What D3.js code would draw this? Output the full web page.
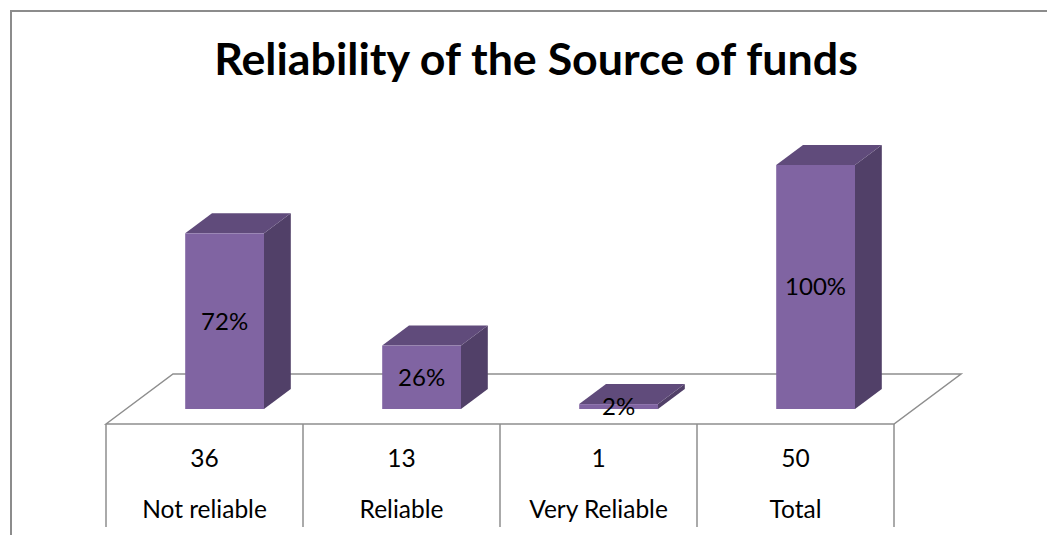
<!DOCTYPE html>
<html>
<head>
<meta charset="utf-8">
<script src="https://cdn.jsdelivr.net/npm/d3@7"></script>
<style>
  body { margin: 0; background: #fff; }
  svg { display: block; }
</style>
</head>
<body>
<div id="chart"></div>
<script>
// chart data
const categories = ["Not reliable", "Reliable", "Very Reliable", "Total"];
const counts = [36, 13, 1, 50];
const percents = [72, 26, 2, 100];
const title = "Reliability of the Source of funds";

const W = 1047, H = 535;
const font = "Lato, 'Open Sans', sans-serif";

// floor / table geometry
const floorX0 = 106, floorX1 = 894, floorFrontY = 424;
const depthX = 67, depthY = -50;
const barFront = 0.3, barBack = 0.7;   // where the bar sits inside the floor depth
const tableBottom = 527;

var svg = d3.select("#chart").append("svg")
    .attr("width", W)
    .attr("height", H);

// outer border
svg.append("path")
    .attr("d", "M11," + H + " L11,11 L" + W + ",11")
    .attr("fill", "none")
    .attr("stroke", "#8c8c8c")
    .attr("stroke-width", 2);

var title_el = svg.append("text")
    .attr("x", 536)
    .attr("y", 75)
    .attr("text-anchor", "middle")
    .attr("font-family", font)
    .attr("font-weight", "bold")
    .attr("font-size", "42px")
    .attr("fill", "#000")
    .text(title);
// fit title width to the reference
var tw = title_el.node().getComputedTextLength();
title_el.attr("font-size", (42 * 644 / tw) + "px");

var xScale = d3.scaleBand()
    .domain(categories)
    .range([floorX0, floorX1])
    .paddingInner(0.6)
    .paddingOuter(0.3);

var colStep = xScale.step();
var colScale = d3.scaleBand().domain(categories).range([floorX0, floorX1]);

var baseY = floorFrontY + depthY * barFront;
var yScale = d3.scaleLinear().domain([0, 100]).range([baseY, baseY - 244]);

var grid = "#8e8e8e";

// floor
svg.append("path")
    .attr("d", "M" + floorX0 + "," + floorFrontY +
        " L" + (floorX0 + depthX) + "," + (floorFrontY + depthY) +
        " L" + (floorX1 + depthX) + "," + (floorFrontY + depthY) +
        " L" + floorX1 + "," + floorFrontY + " Z")
    .attr("fill", "none")
    .attr("stroke", grid)
    .attr("stroke-width", 1.5);

// data table lines
var tableLines = colScale.domain().map(c => colScale(c)).concat([floorX1]);
svg.selectAll(".tline")
    .data(tableLines)
    .enter().append("line")
    .attr("class", "tline")
    .attr("x1", d => d).attr("x2", d => d)
    .attr("y1", floorFrontY).attr("y2", tableBottom)
    .attr("stroke", grid)
    .attr("stroke-width", 1.5);

// bars
var offX = depthX * barFront, dX = depthX * (barBack - barFront), dY = depthY * (barBack - barFront);
var bw = xScale.bandwidth();

var bars = svg.selectAll(".bar")
    .data(categories.map((c, i) => ({ cat: c, pct: percents[i] })))
    .enter().append("g")
    .attr("class", "bar");

// right side
bars.append("path")
    .attr("d", d => {
        var x = xScale(d.cat) + offX + bw, yT = yScale(d.pct), yB = yScale(0);
        return "M" + x + "," + yB + " L" + x + "," + yT + " L" + (x + dX) + "," + (yT + dY) +
            " L" + (x + dX) + "," + (yB + dY) + " Z";
    })
    .attr("fill", "#514068");

// top
bars.append("path")
    .attr("d", d => {
        var x = xScale(d.cat) + offX, yT = yScale(d.pct);
        return "M" + x + "," + yT + " L" + (x + dX) + "," + (yT + dY) + " L" + (x + dX + bw) + "," + (yT + dY) +
            " L" + (x + bw) + "," + yT + " Z";
    })
    .attr("fill", "#604b7b");

// front
bars.append("rect")
    .attr("x", d => xScale(d.cat) + offX)
    .attr("y", d => yScale(d.pct))
    .attr("width", bw)
    .attr("height", d => yScale(0) - yScale(d.pct))
    .attr("fill", "#8064a2");

// percent labels
bars.append("text")
    .attr("x", d => xScale(d.cat) + offX + bw / 2)
    .attr("y", d => (yScale(d.pct) + yScale(0)) / 2)
    .attr("dy", "0.35em")
    .attr("text-anchor", "middle")
    .attr("font-family", font)
    .attr("font-size", "24px")
    .attr("fill", "#000")
    .text(d => d.pct + "%");

// table text
svg.selectAll(".count")
    .data(categories)
    .enter().append("text")
    .attr("class", "count")
    .attr("x", d => colScale(d) + colStep / 2)
    .attr("y", 467)
    .attr("text-anchor", "middle")
    .attr("font-family", font)
    .attr("font-size", "24.5px")
    .text((d, i) => counts[i]);

svg.selectAll(".cat")
    .data(categories)
    .enter().append("text")
    .attr("class", "cat")
    .attr("x", d => colScale(d) + colStep / 2)
    .attr("y", 518)
    .attr("text-anchor", "middle")
    .attr("font-family", font)
    .attr("font-size", "24.5px")
    .text(d => d);
</script>
</body>
</html>
